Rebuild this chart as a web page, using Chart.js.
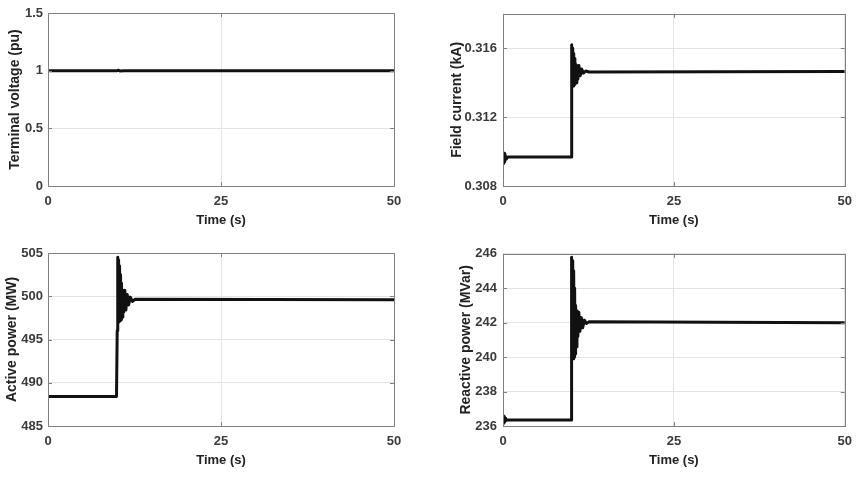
<!DOCTYPE html>
<html>
<head>
<meta charset="utf-8">
<script src="https://cdn.jsdelivr.net/npm/chart.js@4"></script>
<style>
  body { margin: 0; background: #fff; }
  .cell { position: absolute; width: 430px; height: 240px; }
</style>
</head>
<body>
<div class="cell" style="left:0;top:0"><canvas id="voltage"></canvas></div>
<div class="cell" style="left:430px;top:0"><canvas id="field"></canvas></div>
<div class="cell" style="left:0;top:240px"><canvas id="active"></canvas></div>
<div class="cell" style="left:430px;top:240px"><canvas id="reactive"></canvas></div>
<script>
// time axis
const xTicks = [0, 25, 50];

// terminal voltage (pu)
const voltagePts = [[0, 1], [10, 1], [10.2, 1.004], [10.4, 0.997], [11, 1], [50, 1]];
const voltageTicks = [0, 0.5, 1, 1.5];

// field current (kA)
const fieldPts = [
    [0, 0.3097], [0.08, 0.3093], [0.16, 0.3099], [0.24, 0.3094], [0.32, 0.3098], [0.45, 0.30955],
    [0.7, 0.30968], [9.95, 0.30968], [10.02, 0.3125], [10.08, 0.3162], [10.14, 0.3139],
    [10.2, 0.3160], [10.26, 0.3138], [10.32, 0.3157], [10.38, 0.3139], [10.45, 0.3154],
    [10.52, 0.3139], [10.6, 0.3151], [10.68, 0.3140], [10.8, 0.3150], [10.95, 0.3142],
    [11.1, 0.3150], [11.3, 0.3144], [11.5, 0.3148], [11.75, 0.31455], [12.1, 0.31468],
    [12.6, 0.31462], [50, 0.31465]
];
const fieldTicks = [0.308, 0.312, 0.316];

// active power (MW)
const activePts = [
    [0, 488.4], [9.9, 488.4], [10.0, 496], [10.08, 504.5], [10.14, 497.0], [10.2, 504.2],
    [10.27, 497.1], [10.34, 503.5], [10.41, 497.2], [10.48, 502.5], [10.55, 497.3],
    [10.62, 501.5], [10.7, 497.6], [10.82, 500.7], [10.95, 498.2], [11.1, 500.7],
    [11.25, 498.4], [11.45, 500.2], [11.65, 499.0], [11.9, 499.9], [12.2, 499.4],
    [12.6, 499.65], [50, 499.6]
];
const activeTicks = [485, 490, 495, 500, 505];

// reactive power (MVar)
const reactivePts = [
    [0, 236.35], [0.05, 236.6], [0.1, 236.15], [0.15, 236.55], [0.2, 236.2], [0.3, 236.45],
    [0.4, 236.3], [0.6, 236.35], [9.95, 236.35], [10.0, 241], [10.07, 245.8], [10.13, 240.0],
    [10.2, 245.6], [10.27, 239.9], [10.34, 245.0], [10.41, 240.0], [10.48, 244.0],
    [10.55, 240.2], [10.62, 243.0], [10.7, 240.6], [10.82, 242.7], [10.95, 241.2],
    [11.1, 242.6], [11.25, 241.5], [11.45, 242.3], [11.65, 241.7], [11.9, 242.15],
    [12.2, 241.95], [12.6, 242.05], [50, 242.0]
];
const reactiveTicks = [236, 238, 240, 242, 244, 246];

const FONT = "'Liberation Sans', Arial, sans-serif";

// box around the plot area with small inward tick marks, matlab style
const boxPlugin = {
    id: 'box',
    afterDraw(chart) {
        const { ctx, chartArea: a, scales } = chart;
        ctx.save();
        ctx.strokeStyle = '#808080';
        ctx.lineWidth = 1;
        ctx.beginPath();
        scales.x.ticks.forEach(t => {
            const px = Math.round(scales.x.getPixelForValue(t.value)) + 0.5;
            ctx.moveTo(px, a.bottom); ctx.lineTo(px, a.bottom - 4);
            ctx.moveTo(px, a.top); ctx.lineTo(px, a.top + 4);
        });
        scales.y.ticks.forEach(t => {
            const py = Math.round(scales.y.getPixelForValue(t.value)) + 0.5;
            ctx.moveTo(a.left, py); ctx.lineTo(a.left + 4, py);
            ctx.moveTo(a.right, py); ctx.lineTo(a.right - 4, py);
        });
        ctx.stroke();
        ctx.strokeRect(Math.round(a.left) + 0.5, Math.round(a.top) + 0.5,
            Math.round(a.right - a.left), Math.round(a.bottom - a.top));
        ctx.restore();
    }
};

function makeChart(id, pts, yTicks, yMin, yMax, yTitle, yAxisWidth, yTitlePad, tickPad) {
    const ctx = document.getElementById(id);
    return new Chart(ctx, {
        type: 'line',
        data: {
            datasets: [{
                data: pts.map(p => ({ x: p[0], y: p[1] })),
                borderColor: '#111',
                borderWidth: 3,
                pointRadius: 0,
                tension: 0,
                borderJoinStyle: 'round'
            }]
        },
        options: {
            responsive: true,
            maintainAspectRatio: false,
            animation: false,
            events: [],
            layout: { padding: { left: 0, right: 430 - yAxisWidth - 346, top: 13, bottom: 0 } },
            plugins: { legend: { display: false }, tooltip: { enabled: false } },
            scales: {
                x: {
                    type: 'linear',
                    min: 0,
                    max: 50,
                    afterBuildTicks: s => { s.ticks = xTicks.map(v => ({ value: v })); },
                    afterFit: s => { s.height = 54; },
                    grid: { color: '#e4e4e4', drawTicks: false },
                    border: { display: false },
                    ticks: { padding: 8, color: '#3a3a3a', font: { family: FONT, size: 13, weight: 'bold' } },
                    title: {
                        display: true, text: 'Time (s)', color: '#222',
                        padding: { top: 0, bottom: 12 },
                        font: { family: FONT, size: 13, weight: 'bold' }
                    }
                },
                y: {
                    min: yMin,
                    max: yMax,
                    afterBuildTicks: s => { s.ticks = yTicks.map(v => ({ value: v })); },
                    afterFit: s => { s.width = yAxisWidth; },
                    grid: { color: '#e4e4e4', drawTicks: false },
                    border: { display: false },
                    ticks: {
                        padding: tickPad, color: '#3a3a3a',
                        font: { family: FONT, size: 13, weight: 'bold' },
                        callback: v => String(v)
                    },
                    title: {
                        display: true, text: yTitle, color: '#222',
                        padding: { top: yTitlePad, bottom: 0 },
                        font: { family: FONT, size: 14, weight: 'bold' }
                    }
                }
            }
        },
        plugins: [boxPlugin]
    });
}

makeChart('voltage', voltagePts, voltageTicks, 0, 1.5, 'Terminal voltage (pu)', 48, 7, 5);
makeChart('field', fieldPts, fieldTicks, 0.308, 0.318, 'Field current (kA)', 73, 19, 6);
makeChart('active', activePts, activeTicks, 485, 505, 'Active power (MW)', 48, 4, 5);
makeChart('reactive', reactivePts, reactiveTicks, 236, 246, 'Reactive power (MVar)', 73, 28, 6);
</script>
</body>
</html>
